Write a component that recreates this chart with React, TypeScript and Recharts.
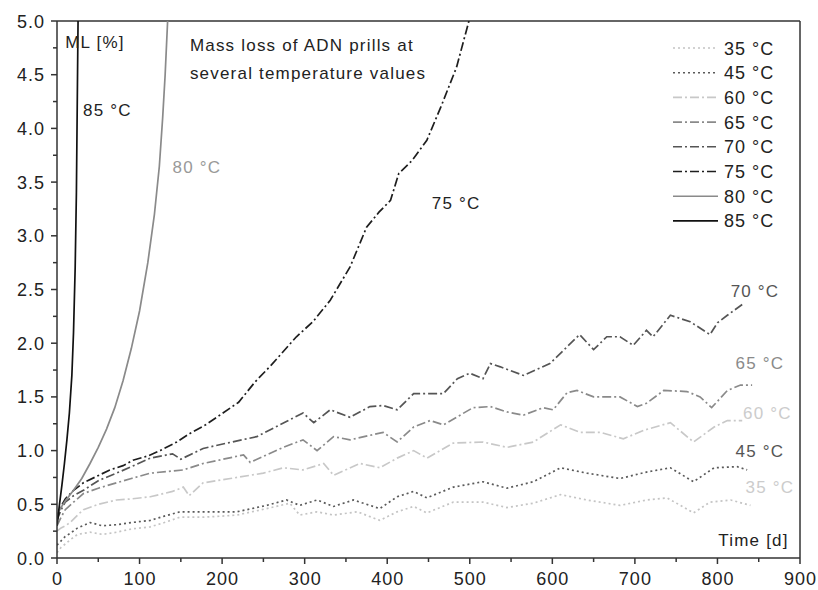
import { LineChart, Line, XAxis, YAxis, ReferenceLine, ReferenceDot } from "recharts";

const FONT = '"Liberation Sans", Arial, sans-serif';

// time [d] and mass loss [%], per storage temperature
const t35 = [0, 5, 10, 16, 25, 40, 55, 72, 90, 113, 130, 149, 177, 200, 218, 254, 282, 294, 315, 335, 364, 391, 412, 432, 448, 480, 516, 545, 577, 610, 642, 682, 714, 739, 771, 791, 816, 840];
const ml35 = [0.05, 0.1, 0.13, 0.17, 0.22, 0.24, 0.22, 0.24, 0.27, 0.29, 0.33, 0.38, 0.38, 0.39, 0.4, 0.46, 0.51, 0.4, 0.43, 0.4, 0.43, 0.35, 0.43, 0.48, 0.42, 0.52, 0.52, 0.47, 0.51, 0.59, 0.54, 0.49, 0.54, 0.56, 0.42, 0.52, 0.54, 0.49];

const t45 = [0, 5, 10, 16, 25, 40, 55, 72, 90, 113, 130, 149, 177, 218, 254, 278, 294, 315, 335, 359, 391, 412, 432, 448, 480, 516, 545, 577, 610, 642, 682, 714, 743, 771, 796, 824, 836];
const ml45 = [0.12, 0.16, 0.2, 0.23, 0.28, 0.33, 0.3, 0.31, 0.33, 0.35, 0.39, 0.43, 0.43, 0.43, 0.49, 0.54, 0.49, 0.54, 0.48, 0.54, 0.46, 0.57, 0.62, 0.56, 0.66, 0.71, 0.65, 0.71, 0.84, 0.79, 0.74, 0.8, 0.84, 0.71, 0.84, 0.85, 0.82];

const t60 = [0, 5, 10, 16, 25, 32, 50, 72, 90, 113, 140, 153, 160, 177, 210, 250, 274, 298, 323, 335, 367, 391, 412, 432, 448, 480, 516, 545, 577, 610, 634, 658, 686, 711, 743, 771, 796, 812, 830];
const ml60 = [0.25, 0.28, 0.3, 0.33, 0.4, 0.45, 0.5, 0.54, 0.55, 0.57, 0.62, 0.66, 0.58, 0.7, 0.74, 0.79, 0.84, 0.82, 0.88, 0.77, 0.88, 0.84, 0.93, 1.0, 0.93, 1.07, 1.08, 1.03, 1.08, 1.24, 1.17, 1.17, 1.11, 1.19, 1.26, 1.08, 1.22, 1.28, 1.28];

const t65 = [0, 5, 10, 20, 32, 50, 72, 90, 113, 153, 177, 226, 234, 274, 298, 315, 335, 355, 395, 412, 432, 452, 468, 504, 525, 545, 565, 589, 601, 618, 630, 650, 682, 703, 714, 735, 763, 779, 793, 812, 828, 842];
const ml65 = [0.3, 0.38, 0.45, 0.52, 0.6, 0.65, 0.7, 0.74, 0.79, 0.82, 0.88, 0.96, 0.89, 1.03, 1.1, 1.0, 1.13, 1.1, 1.17, 1.08, 1.22, 1.28, 1.24, 1.4, 1.41, 1.36, 1.33, 1.4, 1.38, 1.54, 1.56, 1.5, 1.5, 1.41, 1.44, 1.56, 1.55, 1.5, 1.4, 1.56, 1.61, 1.61];

const t70 = [0, 5, 10, 20, 32, 50, 72, 90, 113, 140, 150, 177, 206, 242, 298, 311, 331, 355, 379, 395, 412, 432, 468, 485, 500, 516, 525, 537, 565, 597, 617, 633, 650, 666, 682, 698, 714, 722, 743, 767, 791, 800, 812, 830];
const ml70 = [0.35, 0.45, 0.52, 0.58, 0.63, 0.72, 0.79, 0.85, 0.93, 0.97, 0.92, 1.02, 1.07, 1.13, 1.35, 1.26, 1.38, 1.31, 1.41, 1.42, 1.38, 1.53, 1.53, 1.67, 1.72, 1.67, 1.81, 1.78, 1.7, 1.81, 1.96, 2.08, 1.94, 2.06, 2.06, 1.98, 2.12, 2.06, 2.26, 2.2, 2.08, 2.19, 2.26, 2.36];

const t75 = [0, 4, 10, 20, 32, 48, 64, 80, 92, 110, 125, 145, 161, 180, 201, 220, 240, 260, 290, 310, 331, 355, 375, 390, 404, 414, 430, 448, 465, 484, 492, 499];
const ml75 = [0.35, 0.47, 0.55, 0.63, 0.7, 0.76, 0.82, 0.86, 0.91, 0.95, 1.0, 1.08, 1.16, 1.24, 1.35, 1.45, 1.64, 1.8, 2.06, 2.2, 2.4, 2.71, 3.08, 3.22, 3.33, 3.58, 3.7, 3.89, 4.2, 4.57, 4.8, 5.0];

const t80 = [0, 4, 10, 20, 30, 40, 50, 60, 70, 80, 90, 100, 110, 118, 124, 128, 131, 134];
const ml80 = [0.4, 0.46, 0.53, 0.63, 0.74, 0.88, 1.03, 1.2, 1.4, 1.65, 1.95, 2.3, 2.75, 3.2, 3.65, 4.1, 4.5, 5.0];

const t85 = [0, 3, 6, 9, 12, 15, 18, 20, 22, 23.5, 24.5, 25.5];
const ml85 = [0.3, 0.5, 0.68, 0.88, 1.1, 1.35, 1.7, 2.1, 2.7, 3.4, 4.2, 5.0];

const xTicks = [0, 50, 100, 150, 200, 250, 300, 350, 400, 450, 500, 550, 600, 650, 700, 750, 800, 850, 900];
const yTicks = [0, 0.25, 0.5, 0.75, 1, 1.25, 1.5, 1.75, 2, 2.25, 2.5, 2.75, 3, 3.25, 3.5, 3.75, 4, 4.25, 4.5, 4.75, 5];

const DOT = "2 3";
const DASHDOT = "9 3 2 3";

const series = [
  { name: "35 °C", t: t35, ml: ml35, color: "#c4c4c4", dash: DOT },
  { name: "45 °C", t: t45, ml: ml45, color: "#5a5a5a", dash: DOT },
  { name: "60 °C", t: t60, ml: ml60, color: "#c8c8c8", dash: DASHDOT },
  { name: "65 °C", t: t65, ml: ml65, color: "#8a8a8a", dash: DASHDOT },
  { name: "70 °C", t: t70, ml: ml70, color: "#555555", dash: DASHDOT },
  { name: "75 °C", t: t75, ml: ml75, color: "#1e1e1e", dash: DASHDOT },
  { name: "80 °C", t: t80, ml: ml80, color: "#8a8a8a", dash: undefined },
  { name: "85 °C", t: t85, ml: ml85, color: "#111111", dash: undefined },
];

// annotations placed in data coordinates
const notes = [
  { x: 10, y: 4.8, text: "ML [%]", color: "#222" },
  { x: 161, y: 4.78, text: "Mass loss of ADN prills at", color: "#222" },
  { x: 161, y: 4.52, text: "several temperature values", color: "#222" },
  { x: 31.5, y: 4.17, text: "85 °C", color: "#222" },
  { x: 140, y: 3.64, text: "80 °C", color: "#999" },
  { x: 454, y: 3.31, text: "75 °C", color: "#222" },
  { x: 816, y: 2.49, text: "70 °C", color: "#555" },
  { x: 822, y: 1.82, text: "65 °C", color: "#8a8a8a" },
  { x: 831, y: 1.35, text: "60 °C", color: "#cccccc" },
  { x: 822, y: 1.0, text: "45 °C", color: "#555" },
  { x: 834, y: 0.66, text: "35 °C", color: "#cccccc" },
  { x: 801, y: 0.17, text: "Time [d]", color: "#222" },
];

function XTick({ x, y, payload }: any) {
  const major = payload.value % 100 === 0;
  return (
    <g>
      <line x1={x} x2={x} y1={y} y2={y + (major ? 6 : 4)} stroke="#333" strokeWidth={1.5} />
      {major && (
        <text x={x + 0.5} y={y + 27} textAnchor="middle" fontSize={18} letterSpacing={1} fill="#222" fontFamily={FONT}>
          {payload.value}
        </text>
      )}
    </g>
  );
}

function YTick({ x, y, payload }: any) {
  const major = Math.abs(payload.value * 2 - Math.round(payload.value * 2)) < 1e-6;
  return (
    <g>
      <line x1={x} x2={x - (major ? 6 : 4)} y1={y} y2={y} stroke="#333" strokeWidth={1.5} />
      {major && (
        <text x={x - 12} y={y + 6.5} textAnchor="end" fontSize={18} letterSpacing={1} fill="#222" fontFamily={FONT}>
          {payload.value.toFixed(1)}
        </text>
      )}
    </g>
  );
}

function NoteLabel({ viewBox, value, fill }: any) {
  return (
    <text x={viewBox.x} y={viewBox.y + 6} fontSize={17} letterSpacing={1.2} fill={fill} fontFamily={FONT}>
      {value}
    </text>
  );
}

function LegendBox() {
  return (
    <svg width={140} height={200}>
      {series.map((s, i) => (
        <g key={s.name}>
          <line x1={5} x2={50} y1={12 + i * 24.7} y2={12 + i * 24.7} stroke={s.color} strokeWidth={1.6} strokeDasharray={s.dash} />
          <text x={56} y={18.5 + i * 24.7} fontSize={18} letterSpacing={1} fill="#222" fontFamily={FONT}>
            {s.name}
          </text>
        </g>
      ))}
    </svg>
  );
}

export default function App() {
  return (
    <div style={{ position: "absolute", left: 0, top: 0, width: 818, height: 590, background: "#fff" }}>
      <LineChart width={818} height={590} margin={{ top: 21, right: 18, bottom: 0, left: 0 }}>
        <XAxis
          type="number"
          dataKey="x"
          domain={[0, 900]}
          ticks={xTicks}
          interval={0}
          allowDataOverflow
          height={32}
          tickSize={0}
          tickMargin={0}
          tickLine={false}
          tick={<XTick />}
          axisLine={{ stroke: "#333", strokeWidth: 1.5 }}
        />
        <YAxis
          type="number"
          dataKey="y"
          domain={[0, 5]}
          ticks={yTicks}
          interval={0}
          allowDataOverflow
          width={57}
          tickSize={0}
          tickMargin={0}
          tickLine={false}
          tick={<YTick />}
          axisLine={{ stroke: "#333", strokeWidth: 1.5 }}
        />
        <ReferenceLine y={5} stroke="#333" strokeWidth={1.5} />
        <ReferenceLine x={900} stroke="#333" strokeWidth={1.5} />
        {series.map((s) => (
          <Line
            key={s.name}
            name={s.name}
            type="linear"
            data={s.t.map((t, i) => ({ x: t, y: s.ml[i] }))}
            dataKey="y"
            stroke={s.color}
            strokeWidth={1.7}
            strokeDasharray={s.dash}
            dot={false}
            activeDot={false}
            isAnimationActive={false}
          />
        ))}
        {notes.map((n) => (
          <ReferenceDot
            key={n.text}
            x={n.x}
            y={n.y}
            r={0}
            stroke="none"
            fill="none"
            label={<NoteLabel value={n.text} fill={n.color} />}
          />
        ))}
      </LineChart>
      <div style={{ position: "absolute", left: 668, top: 36 }}>
        <LegendBox />
      </div>
    </div>
  );
}
